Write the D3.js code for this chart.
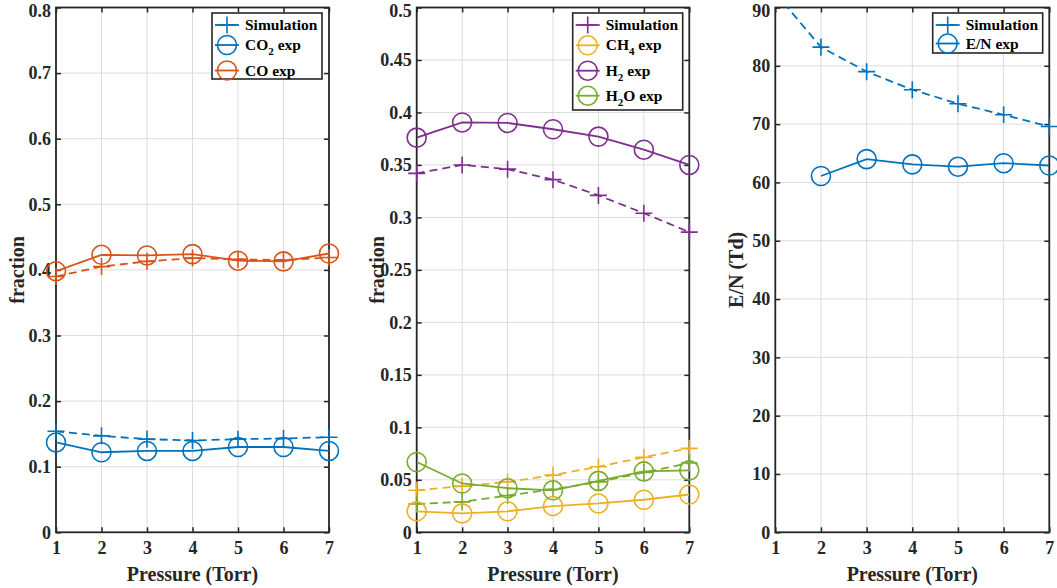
<!DOCTYPE html>
<html>
<head>
<meta charset="utf-8">
<script src="https://cdn.jsdelivr.net/npm/d3@7"></script>
<style>
html,body{margin:0;padding:0;background:#fff;}
svg{display:block;font-family:"Liberation Serif","Times New Roman",serif;font-weight:bold;}
</style>
</head>
<body>
<svg id="chart" width="1057" height="588"></svg>
<script>
// ---------- data ----------
const pressure = [1, 2, 3, 4, 5, 6, 7];

const co2Sim = [0.154, 0.147, 0.142, 0.140, 0.142, 0.143, 0.145];
const co2Exp = [0.137, 0.122, 0.124, 0.124, 0.130, 0.130, 0.124];
const coSim  = [0.390, 0.405, 0.413, 0.418, 0.416, 0.415, 0.419];
const coExp  = [0.398, 0.423, 0.422, 0.424, 0.414, 0.413, 0.425];

const ch4Sim = [0.040, 0.044, 0.048, 0.0545, 0.0625, 0.0715, 0.080];
const ch4Exp = [0.020, 0.018, 0.020, 0.025, 0.0275, 0.031, 0.036];
const h2Sim  = [0.342, 0.350, 0.346, 0.336, 0.321, 0.304, 0.286];
const h2Exp  = [0.376, 0.3905, 0.390, 0.384, 0.377, 0.3645, 0.350];
const h2oSim = [0.027, 0.029, 0.035, 0.041, 0.048, 0.057, 0.066];
const h2oExp = [0.067, 0.0465, 0.042, 0.040, 0.049, 0.058, 0.059];

const enSim = [92.5, 83.2, 79.0, 75.9, 73.5, 71.6, 69.6];
const enExp = [null, 61.1, 64.0, 63.1, 62.7, 63.3, 62.9];

const xTicks = [1, 2, 3, 4, 5, 6, 7];
const yTicks1 = [0, 0.1, 0.2, 0.3, 0.4, 0.5, 0.6, 0.7, 0.8];
const yTicks2 = [0, 0.05, 0.1, 0.15, 0.2, 0.25, 0.3, 0.35, 0.4, 0.45, 0.5];
const yTicks3 = [0, 10, 20, 30, 40, 50, 60, 70, 80, 90];

// ---------- styles ----------
const C = {blue:"#0072BD", orange:"#D95319", yellow:"#EDB120", purple:"#7E2F8E", green:"#77AC30"};
const AX = "#262626";
const FONT = "Liberation Serif, Times New Roman, serif";

const svg = d3.select("#chart");

const panels = [
  {left:56, right:329, yDomain:[0,0.8], yTicks:yTicks1, fmt:d3.format("~g"), ylabel:"fraction", ylabelX:17,
   series:[
     {values:co2Sim, color:C.blue, dash:true, marker:"plus"},
     {values:co2Exp, color:C.blue, dash:false, marker:"circle"},
     {values:coSim, color:C.orange, dash:true, marker:"plus"},
     {values:coExp, color:C.orange, dash:false, marker:"circle"}
   ],
   legend:{x:212, y:13, w:110, rows:[
     {y:25, marker:"plus", color:C.blue, parts:[["Simulation"]]},
     {y:45, marker:"circle", color:C.blue, parts:[["CO"],["2","sub"],[" exp"]]},
     {y:70.5, marker:"circle", color:C.orange, parts:[["CO exp"]]}
   ], h:66}},
  {left:416.7, right:689.3, yDomain:[0,0.5], yTicks:yTicks2, fmt:d3.format("~g"), ylabel:"fraction", ylabelX:377,
   series:[
     {values:h2Sim, color:C.purple, dash:true, marker:"plus"},
     {values:ch4Sim, color:C.yellow, dash:true, marker:"plus"},
     {values:h2oSim, color:C.green, dash:true, marker:"plus"},
     {values:ch4Exp, color:C.yellow, dash:false, marker:"circle"},
     {values:h2Exp, color:C.purple, dash:false, marker:"circle"},
     {values:h2oExp, color:C.green, dash:false, marker:"circle"}
   ],
   legend:{x:572.7, y:13, w:110, rows:[
     {y:25, marker:"plus", color:C.purple, parts:[["Simulation"]]},
     {y:45.3, marker:"circle", color:C.yellow, parts:[["CH"],["4","sub"],[" exp"]]},
     {y:70.7, marker:"circle", color:C.purple, parts:[["H"],["2","sub"],[" exp"]]},
     {y:95.7, marker:"circle", color:C.green, parts:[["H"],["2","sub"],["O exp"]]}
   ], h:97}},
  {left:775.3, right:1049.3, yDomain:[0,90], yTicks:yTicks3, fmt:d3.format("~g"), ylabel:"E/N (Td)", ylabelX:736,
   series:[
     {values:enSim, color:C.blue, dash:true, marker:"plus"},
     {values:enExp, color:C.blue, dash:false, marker:"circle"}
   ],
   legend:{x:932.7, y:13, w:110, rows:[
     {y:25, marker:"plus", color:C.blue, parts:[["Simulation"]]},
     {y:43.5, marker:"circle", color:C.blue, parts:[["E/N exp"]]}
   ], h:40}}
];

const TOP = 7.5, BOTTOM = 532.3;

function drawMarker(g, type, cx, cy, color){
  if(type === "circle"){
    g.append("circle").attr("cx",cx).attr("cy",cy).attr("r",9.5)
      .attr("fill","none").attr("stroke",color).attr("stroke-width",1.6);
  } else {
    const s = 8.5;
    g.append("path").attr("d",`M${cx-s},${cy}H${cx+s}M${cx},${cy-s}V${cy+s}`)
      .attr("fill","none").attr("stroke",color).attr("stroke-width",1.6);
  }
}

panels.forEach((p, i) => {
  const x = d3.scaleLinear().domain([1,7]).range([p.left, p.right]);
  const y = d3.scaleLinear().domain(p.yDomain).range([BOTTOM, TOP]);
  const g = svg.append("g");

  // grid
  const grid = g.append("g").attr("stroke","#dcdcdc").attr("stroke-width",1);
  xTicks.forEach(t => grid.append("line").attr("x1",x(t)).attr("x2",x(t)).attr("y1",TOP).attr("y2",BOTTOM));
  p.yTicks.forEach(t => grid.append("line").attr("y1",y(t)).attr("y2",y(t)).attr("x1",p.left).attr("x2",p.right));

  // axes (ticks inside, mirrored)
  const tickLen = 5;
  const axB = g.append("g").attr("transform",`translate(0,${BOTTOM})`)
    .call(d3.axisBottom(x).tickValues(xTicks).tickSizeInner(-tickLen).tickSizeOuter(0).tickPadding(9).tickFormat(d3.format("d")));
  const axT = g.append("g").attr("transform",`translate(0,${TOP})`)
    .call(d3.axisTop(x).tickValues(xTicks).tickSizeInner(-tickLen).tickSizeOuter(0).tickFormat(""));
  const axL = g.append("g").attr("transform",`translate(${p.left},0)`)
    .call(d3.axisLeft(y).tickValues(p.yTicks).tickSizeInner(-tickLen).tickSizeOuter(0).tickPadding(5).tickFormat(p.fmt));
  const axR = g.append("g").attr("transform",`translate(${p.right},0)`)
    .call(d3.axisRight(y).tickValues(p.yTicks).tickSizeInner(-tickLen).tickSizeOuter(0).tickFormat(""));
  [axB,axT,axL,axR].forEach(a => {
    a.attr("font-family", FONT).attr("font-size", 18).attr("font-weight","bold");
    a.select(".domain").remove();
    a.selectAll(".tick line").attr("stroke",AX).attr("stroke-width",1.5);
    a.selectAll(".tick text").attr("fill",AX);
  });
  // keep the topmost y label inside the page
  axL.selectAll(".tick text").filter(d => d === p.yDomain[1]).attr("y", 3);
  // box
  g.append("rect").attr("x",p.left).attr("y",TOP).attr("width",p.right-p.left).attr("height",BOTTOM-TOP)
    .attr("fill","none").attr("stroke",AX).attr("stroke-width",1.8);

  // clip
  const clipId = "clip"+i;
  svg.append("clipPath").attr("id",clipId).append("rect")
    .attr("x",p.left).attr("y",TOP).attr("width",p.right-p.left).attr("height",BOTTOM-TOP);

  const line = d3.line().defined(d => d[1] != null).x(d => x(d[0])).y(d => y(d[1]));
  p.series.forEach(s => {
    const pts = pressure.map((px,k) => [px, s.values[k]]);
    g.append("path").datum(pts).attr("d",line).attr("clip-path",`url(#${clipId})`)
      .attr("fill","none").attr("stroke",s.color).attr("stroke-width",1.8)
      .attr("stroke-dasharray", s.dash ? "8,5" : null);
    const mg = g.append("g");
    pts.filter(d => d[1] != null && d[1] >= p.yDomain[0] && d[1] <= p.yDomain[1])
      .forEach(d => drawMarker(mg, s.marker, x(d[0]), y(d[1]), s.color));
  });

  // axis labels
  g.append("text").attr("x",(p.left+p.right)/2).attr("y",581).attr("text-anchor","middle")
    .attr("font-size",20).attr("fill",AX).text("Pressure (Torr)");
  g.append("text").attr("transform",`translate(${p.ylabelX},${(TOP+BOTTOM)/2}) rotate(-90)`)
    .attr("text-anchor","middle").attr("dy","0.35em").attr("font-size",20).attr("fill",AX).text(p.ylabel);

  // legend
  const L = p.legend;
  const lg = g.append("g");
  lg.append("rect").attr("x",L.x).attr("y",L.y).attr("width",L.w).attr("height",L.h)
    .attr("fill","#fff").attr("stroke",AX).attr("stroke-width",1.6);
  L.rows.forEach(r => {
    const cx = L.x + 15;
    lg.append("line").attr("x1",L.x+3).attr("x2",L.x+27).attr("y1",r.y).attr("y2",r.y)
      .attr("stroke",r.color).attr("stroke-width",1.8);
    drawMarker(lg, r.marker, cx, r.y, r.color);
    const t = lg.append("text").attr("x",L.x+33).attr("y",r.y).attr("dy","0.33em")
      .attr("font-size",15.5).attr("fill","#000");
    let prevSub = false;
    r.parts.forEach(pt => {
      if(pt[1] === "sub"){
        t.append("tspan").attr("font-size",11).attr("dy",5).text(pt[0]);
        prevSub = true;
      } else {
        const ts = t.append("tspan").text(pt[0]);
        if(prevSub) ts.attr("dy",-5);
        prevSub = false;
      }
    });
  });
});
</script>
</body>
</html>
